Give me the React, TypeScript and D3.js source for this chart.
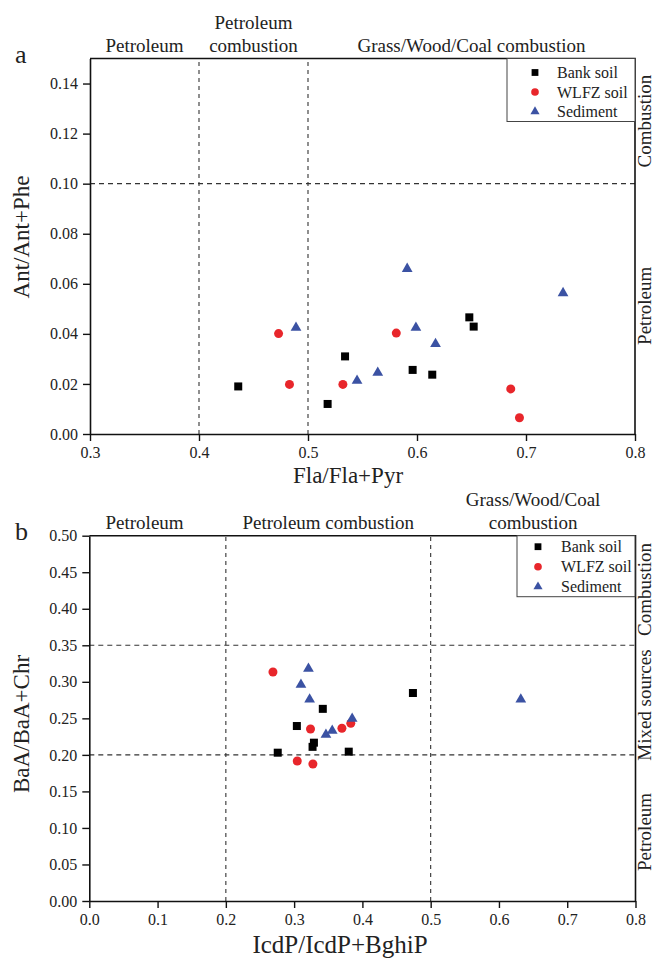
import React from 'react'
import * as d3 from 'd3'

// series shared by both panels
const seriesNames = ['Bank soil', 'WLFZ soil', 'Sediment']
const seriesColors = ['#000000', '#e8262b', '#3b52a3']
const seriesShapes = ['square', 'circle', 'triangle']

// panel a: Fla/Fla+Pyr vs Ant/Ant+Phe
const aBankSoil = [[0.436, 0.019], [0.518, 0.012], [0.534, 0.031], [0.596, 0.0256], [0.614, 0.0237], [0.648, 0.0466], [0.652, 0.0429]]
const aWlfzSoil = [[0.473, 0.0401], [0.483, 0.0198], [0.532, 0.0198], [0.581, 0.0403], [0.686, 0.018], [0.694, 0.0065]]
const aSediment = [[0.489, 0.0425], [0.545, 0.0213], [0.564, 0.0245], [0.591, 0.066], [0.599, 0.0425], [0.617, 0.036], [0.734, 0.0563]]
const aXTicks = [0.3, 0.4, 0.5, 0.6, 0.7, 0.8]
const aYTicks = [0, 0.02, 0.04, 0.06, 0.08, 0.1, 0.12, 0.14]
const aVLines = [0.4, 0.5]
const aHLines = [0.1]
const aTopLabels = [['Petroleum'], ['Petroleum', 'combustion'], ['Grass/Wood/Coal combustion']]
const aSideLabels = ['Combustion', 'Petroleum']

// panel b: IcdP/IcdP+BghiP vs BaA/BaA+Chr
const bBankSoil = [[0.276, 0.203], [0.304, 0.2395], [0.327, 0.211], [0.329, 0.2167], [0.342, 0.263], [0.38, 0.2044], [0.474, 0.2847]]
const bWlfzSoil = [[0.269, 0.3134], [0.3046, 0.1916], [0.324, 0.2354], [0.3275, 0.1875], [0.37, 0.2364], [0.383, 0.2432]]
const bSediment = [[0.321, 0.318], [0.31, 0.296], [0.3227, 0.276], [0.3466, 0.2277], [0.3558, 0.233], [0.385, 0.2495], [0.632, 0.276]]
const bXTicks = [0, 0.1, 0.2, 0.3, 0.4, 0.5, 0.6, 0.7, 0.8]
const bYTicks = [0, 0.05, 0.1, 0.15, 0.2, 0.25, 0.3, 0.35, 0.4, 0.45, 0.5]
const bVLines = [0.2, 0.5]
const bHLines = [0.2, 0.35]
const bTopLabels = [['Petroleum'], ['Petroleum combustion'], ['Grass/Wood/Coal', 'combustion']]
const bSideLabels = ['Combustion', 'Mixed sources', 'Petroleum']

const FONT = '"Liberation Serif", "Times New Roman", serif'

const panels = [
  {
    letter: 'a',
    series: [aBankSoil, aWlfzSoil, aSediment],
    xDomain: [0.3, 0.8], yDomain: [0, 0.15],
    xRange: [90, 635], yRange: [434, 58.5],
    xTicks: aXTicks, yTicks: aYTicks, xFmt: '.1f', yFmt: '.2f',
    vLines: aVLines, hLines: aHLines,
    topLabels: aTopLabels, sideLabels: aSideLabels, sideShift: [0, -3], sideSize: 19,
    xTitle: 'Fla/Fla+Pyr', yTitle: 'Ant/Ant+Phe',
    xTitlePos: [348, 483], yTitlePos: [29, 237], xTitleSize: 23,
    firstLabelShift: 0,
    legend: { x: 507, w: 128, h: 63, mx: 28, tx: 50, top: 14, step: 19.5 },
  },
  {
    letter: 'b',
    series: [bBankSoil, bWlfzSoil, bSediment],
    xDomain: [0, 0.8], yDomain: [0, 0.5],
    xRange: [89.3, 635.5], yRange: [901, 535.7],
    xTicks: bXTicks, yTicks: bYTicks, xFmt: '.1f', yFmt: '.2f',
    vLines: bVLines, hLines: bHLines,
    topLabels: bTopLabels, sideLabels: bSideLabels, sideShift: [-1, 5, 4], sideSize: 19,
    xTitle: 'IcdP/IcdP+BghiP', yTitle: 'BaA/BaA+Chr',
    xTitlePos: [340, 953], yTitlePos: [29, 724], xTitleSize: 25,
    firstLabelShift: -13,
    legend: { x: 517, w: 118, h: 61, mx: 21, tx: 44, top: 11, step: 20 },
  },
]

function drawMarker(g, shape, color, x, y, scale = 1) {
  if (shape === 'square') {
    const s = 8 * scale
    g.append('rect').attr('x', x - s / 2).attr('y', y - s / 2).attr('width', s).attr('height', s).attr('fill', color)
  } else if (shape === 'circle') {
    g.append('circle').attr('cx', x).attr('cy', y).attr('r', 4.5 * scale).attr('fill', color)
  } else {
    g.append('path')
      .attr('d', d3.symbol(d3.symbolTriangle, 50 * scale * scale)())
      .attr('transform', `translate(${x},${y})`)
      .attr('fill', color)
  }
}

function drawPanel(svg, p) {
  const x = d3.scaleLinear().domain(p.xDomain).range(p.xRange)
  const y = d3.scaleLinear().domain(p.yDomain).range(p.yRange)
  const [x0, x1] = p.xRange
  const [y0, y1] = p.yRange
  const g = svg.append('g').attr('font-family', FONT)

  // threshold lines
  g.append('g').selectAll('line').data(p.vLines).join('line')
    .attr('x1', (d) => x(d)).attr('x2', (d) => x(d))
    .attr('y1', y0).attr('y2', y1)
    .attr('stroke', '#333').attr('stroke-width', 1.1).attr('stroke-dasharray', '4,4')
  g.append('g').selectAll('line').data(p.hLines).join('line')
    .attr('x1', x0).attr('x2', x1)
    .attr('y1', (d) => y(d)).attr('y2', (d) => y(d))
    .attr('stroke', '#333').attr('stroke-width', 1.1).attr('stroke-dasharray', '5,4')

  // axes
  const xAxis = g.append('g').attr('transform', `translate(0,${y0})`)
    .call(d3.axisBottom(x).tickValues(p.xTicks).tickFormat(d3.format(p.xFmt)).tickSize(7).tickSizeOuter(0).tickPadding(6))
  const yAxis = g.append('g').attr('transform', `translate(${x0},0)`)
    .call(d3.axisLeft(y).tickValues(p.yTicks).tickFormat(d3.format(p.yFmt)).tickSize(7).tickSizeOuter(0).tickPadding(5))
  for (const ax of [xAxis, yAxis]) {
    ax.selectAll('text').attr('font-size', 16).attr('font-family', FONT).attr('fill', '#222')
    ax.selectAll('line').attr('stroke', '#111').attr('stroke-width', 1.4)
    ax.select('.domain').attr('stroke', '#111').attr('stroke-width', 1.6)
  }
  // top and right frame
  g.append('path')
    .attr('d', `M${x0},${y1}H${x1}V${y0}`)
    .attr('fill', 'none').attr('stroke', '#111').attr('stroke-width', 1.6)

  // points
  p.series.forEach((pts, i) => {
    const sg = g.append('g')
    for (const [vx, vy] of pts) drawMarker(sg, seriesShapes[i], seriesColors[i], x(vx), y(vy))
  })

  // legend
  const L = p.legend
  const lg = g.append('g')
  lg.append('rect')
    .attr('x', L.x).attr('y', y1).attr('width', L.w).attr('height', L.h)
    .attr('fill', '#fff').attr('stroke', '#444').attr('stroke-width', 1)
  seriesNames.forEach((name, i) => {
    const cy = y1 + L.top + i * L.step
    drawMarker(lg, seriesShapes[i], seriesColors[i], L.x + L.mx, cy, 0.85)
    lg.append('text')
      .attr('x', L.x + L.tx).attr('y', cy).attr('dy', '0.35em')
      .attr('font-size', 16).attr('fill', '#222').text(name)
  })

  // region labels above the plot
  const bounds = [p.xDomain[0], ...p.vLines, p.xDomain[1]]
  p.topLabels.forEach((lines, i) => {
    const cx = x((bounds[i] + bounds[i + 1]) / 2) + (i === 0 ? p.firstLabelShift : 0)
    const t = g.append('text').attr('text-anchor', 'middle').attr('font-size', 19).attr('fill', '#222')
    lines.forEach((ln, j) => {
      t.append('tspan').attr('x', cx).attr('y', y1 - 7 - (lines.length - 1 - j) * 23).text(ln)
    })
  })

  // region labels on the right
  const hb = [p.yDomain[1], ...[...p.hLines].sort((a, b) => b - a), p.yDomain[0]]
  p.sideLabels.forEach((lab, i) => {
    const cy = y((hb[i] + hb[i + 1]) / 2) + p.sideShift[i]
    g.append('text')
      .attr('transform', `translate(651,${cy}) rotate(-90)`)
      .attr('text-anchor', 'middle').attr('font-size', p.sideSize).attr('fill', '#222')
      .text(lab)
  })

  // axis titles and panel letter
  g.append('text')
    .attr('x', p.xTitlePos[0]).attr('y', p.xTitlePos[1])
    .attr('text-anchor', 'middle').attr('font-size', p.xTitleSize).attr('fill', '#222')
    .text(p.xTitle)
  g.append('text')
    .attr('transform', `translate(${p.yTitlePos[0]},${p.yTitlePos[1]}) rotate(-90)`)
    .attr('text-anchor', 'middle').attr('font-size', 23).attr('fill', '#222')
    .text(p.yTitle)
  g.append('text')
    .attr('x', 15).attr('y', y1 + 4)
    .attr('font-size', 26).attr('fill', '#222')
    .text(p.letter)
}

const App = () => {
  const svgRef = React.useRef(null)

  React.useEffect(() => {
    const svg = d3.select(svgRef.current)
    svg.selectAll('*').remove()
    panels.forEach((p) => drawPanel(svg, p))
  }, [])

  return (
    <svg
      ref={svgRef}
      width={655}
      height={961}
      style={{ position: 'absolute', left: 0, top: 0, background: '#fff' }}
    />
  )
}

export default App
